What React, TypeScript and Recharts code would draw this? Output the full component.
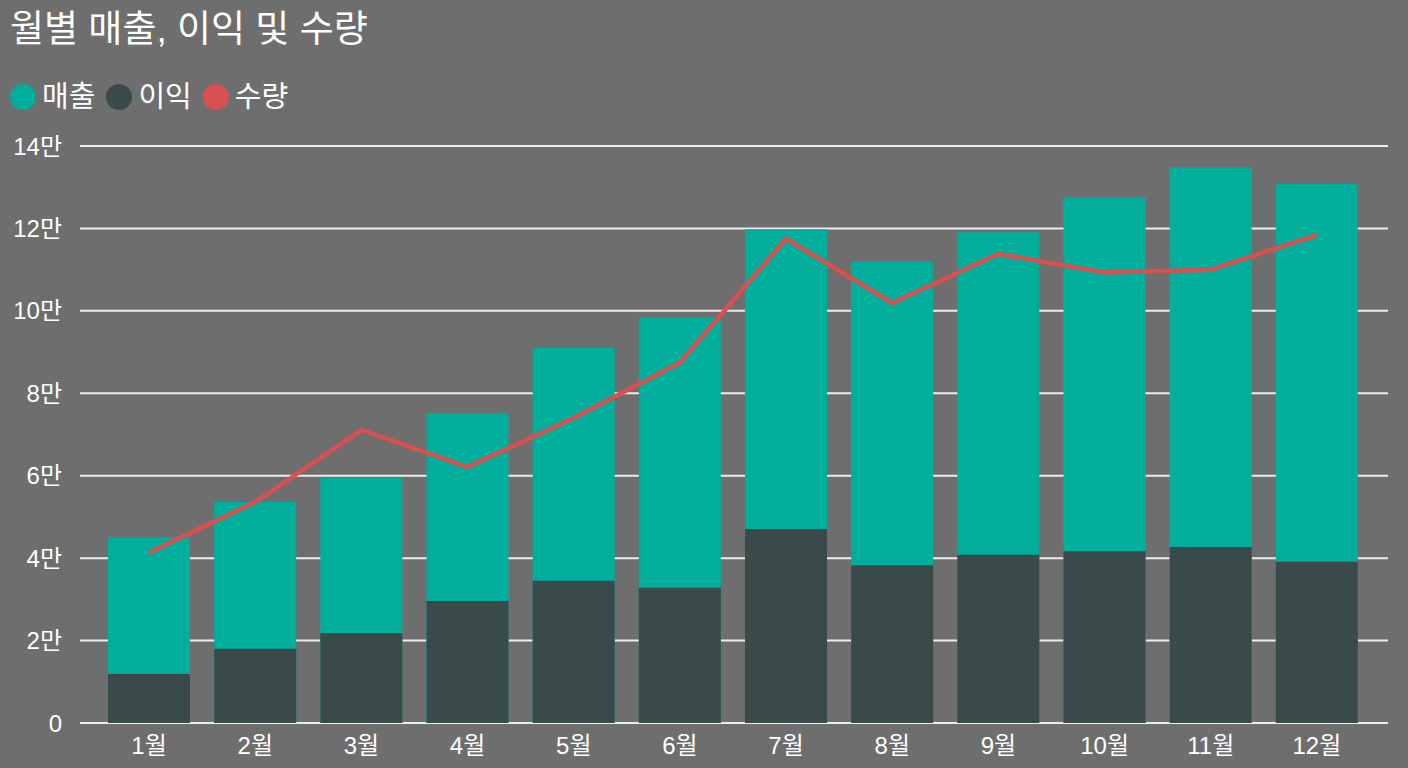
import { ComposedChart, Bar, Line, XAxis, YAxis, CartesianGrid } from 'recharts';

const months = ['1월', '2월', '3월', '4월', '5월', '6월', '7월', '8월', '9월', '10월', '11월', '12월'];
const sales = [45100, 53600, 59500, 75200, 91000, 98300, 119800, 112000, 119100, 127600, 134900, 130800];
const profit = [11900, 18000, 21800, 29600, 34500, 32800, 47100, 38300, 40800, 41700, 42700, 39100];
const quantity = [41300, 53600, 71100, 62100, 74000, 87400, 117500, 101900, 113800, 109300, 110000, 118400];
const yTicks = [0, 20000, 40000, 60000, 80000, 100000, 120000, 140000];

const BG = '#6e6e6e';
const SALES_COLOR = '#00ae9b';
const PROFIT_COLOR = '#3a4a4a';
const QTY_COLOR = '#d95050';
const FONT = "'Liberation Sans', 'Noto Sans CJK KR', sans-serif";

const data = months.map((m, i) => ({
  month: m,
  sales: sales[i],
  profit: profit[i],
  quantity: quantity[i],
}));

const legendItems = [
  { label: '매출', color: SALES_COLOR },
  { label: '이익', color: PROFIT_COLOR },
  { label: '수량', color: QTY_COLOR },
];

const formatY = (v: number) => (v === 0 ? '0' : `${v / 10000}만`);

export default function App() {
  return (
    <div
      style={{
        position: 'fixed',
        left: 0,
        top: 0,
        width: 1408,
        height: 768,
        background: BG,
        fontFamily: FONT,
        overflow: 'hidden',
      }}
    >
      <div style={{ position: 'absolute', left: 10, top: 7, fontSize: 37, color: '#ffffff', lineHeight: '46px' }}>
        월별 매출, 이익 및 수량
      </div>

      {/* Legend */}
      <div style={{ position: 'absolute', left: 10, top: 79, display: 'flex', alignItems: 'center', gap: 11 }}>
        {legendItems.map((item) => (
          <div key={item.label} style={{ display: 'flex', alignItems: 'center', gap: 6 }}>
            <div style={{ width: 26, height: 26, borderRadius: '50%', background: item.color }} />
            <span style={{ fontSize: 29, color: '#ffffff', lineHeight: '36px' }}>{item.label}</span>
          </div>
        ))}
      </div>

      <div style={{ position: 'absolute', left: 0, top: 0 }}>
        <ComposedChart
          width={1408}
          height={768}
          data={data}
          margin={{ top: 146, right: 20, bottom: 0, left: 0 }}
          barSize={82}
          barGap={-82}
        >
          <CartesianGrid vertical={false} stroke="#ececec" strokeWidth={2} />
          <XAxis
            dataKey="month"
            height={45}
            padding={{ left: 16, right: 18 }}
            axisLine={false}
            tickLine={false}
            tickMargin={8}
            tick={{ fontSize: 24, fill: '#ffffff', fontFamily: FONT }}
          />
          <YAxis
            width={80}
            domain={[0, 140000]}
            ticks={yTicks}
            tickFormatter={formatY}
            axisLine={false}
            tickLine={false}
            tickMargin={12}
            tick={{ fontSize: 24, fill: '#ffffff', fontFamily: FONT }}
          />
          <Bar dataKey="sales" fill={SALES_COLOR} isAnimationActive={false} />
          <Bar dataKey="profit" fill={PROFIT_COLOR} isAnimationActive={false} />
          <Line
            type="linear"
            dataKey="quantity"
            stroke={QTY_COLOR}
            strokeWidth={4.5}
            dot={false}
            activeDot={false}
            isAnimationActive={false}
          />
        </ComposedChart>
      </div>
    </div>
  );
}
